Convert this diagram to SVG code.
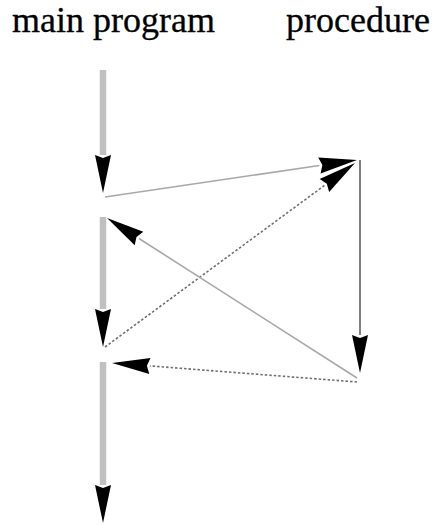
<svg xmlns="http://www.w3.org/2000/svg" width="432" height="525" viewBox="0 0 432 525">
<style>
.lbl{font-family:"Liberation Serif","Times New Roman",serif;font-size:36px;fill:#000;stroke:#000;stroke-width:0.3}
.main{stroke:#c0c0c0;stroke-width:6.5;fill:none}
.proc{stroke:#808080;stroke-width:2;fill:none}
.thin{stroke:#a8a8a8;stroke-width:1.6;fill:none}
.dot{stroke:#707070;stroke-width:1.6;fill:none;stroke-dasharray:2.5 2}
</style>
<defs>
<marker id="ah" markerUnits="userSpaceOnUse" markerWidth="42" markerHeight="20" refX="0" refY="9" orient="auto" overflow="visible">
<path d="M0,1 L38,9 L0,17 L3,9 Z" fill="#000"/>
</marker>
</defs>
<g id="main-program"><text class="lbl" x="12" y="32">main program</text></g>
<g id="procedure"><text class="lbl" x="286" y="32">procedure</text></g>
<g id="connectors">
<line class="main" x1="103" y1="70" x2="103" y2="155" marker-end="url(#ah)"/>
<line class="main" x1="103" y1="217" x2="103" y2="309" marker-end="url(#ah)"/>
<line class="main" x1="103" y1="362" x2="103" y2="485" marker-end="url(#ah)"/>
<line class="proc" x1="360" y1="160" x2="360" y2="335" marker-end="url(#ah)"/>
<line class="thin" x1="105" y1="197" x2="319.4" y2="165.5" marker-end="url(#ah)"/>
<line class="dot" x1="105" y1="347" x2="324.4" y2="185.5" marker-end="url(#ah)"/>
<line class="thin" x1="357" y1="378" x2="139" y2="238.5" marker-end="url(#ah)"/>
<line class="dot" x1="357" y1="382" x2="149.9" y2="365.9" marker-end="url(#ah)"/>
</g>
</svg>
